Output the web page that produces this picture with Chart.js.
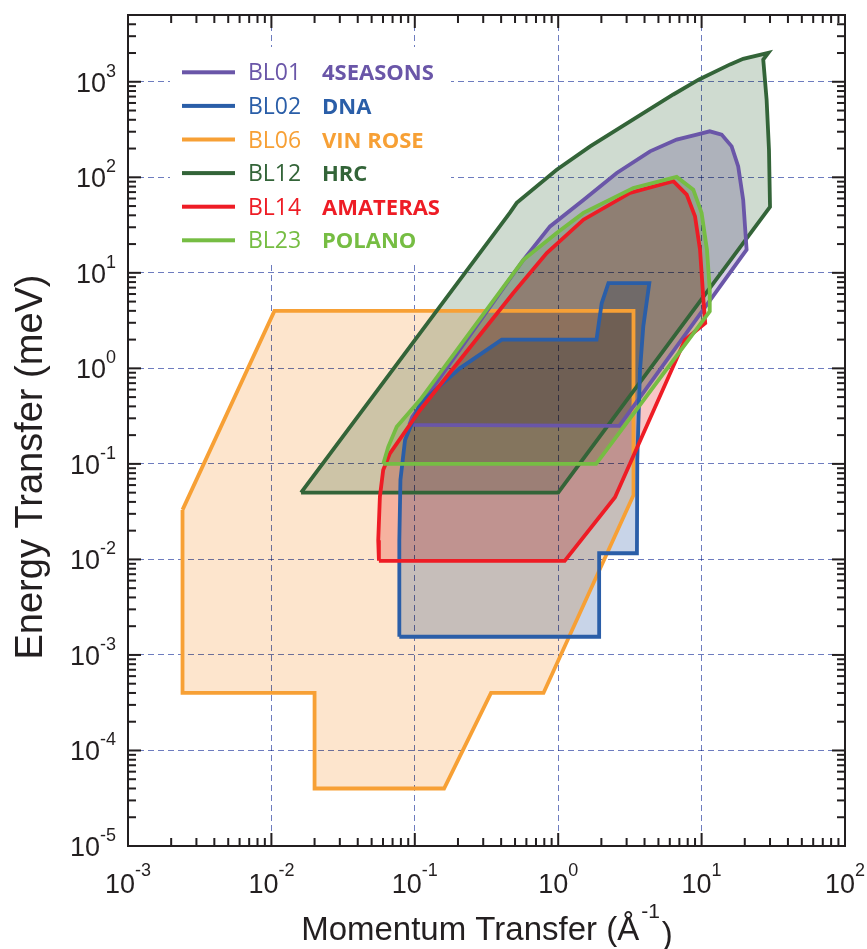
<!DOCTYPE html>
<html>
<head>
<meta charset="utf-8">
<script src="https://cdn.jsdelivr.net/npm/chart.js@4.4.1/dist/chart.umd.min.js"></script>
<style>
  html, body { margin: 0; padding: 0; background: #fff; }
</style>
</head>
<body>
<canvas id="chart" width="867" height="949"></canvas>
<script>
// beamlines, in legend order
const beamlines = ["BL01", "BL02", "BL06", "BL12", "BL14", "BL23"];
const instruments = ["4SEASONS", "DNA", "VIN ROSE", "HRC", "AMATERAS", "POLANO"];
const lineColors = ["#6a56a8", "#2a5ea8", "#f7a035", "#336438", "#ee1c25", "#76bd43"];
// fill tints, combined with "multiply" so overlaps darken
const fillColors = ["#d6cfe5", "#c8d4e8", "#fde5cd", "#cfdbd0", "#f8c6c6", "#d8ebca"];
const drawOrder = [3, 2, 5, 4, 1, 0]; // higher = further back

// coverage polygons : [Q (1/A), E (meV)]
const bl01 = [[0.0915, 0.256], [2.67, 0.25], [20.6, 17.5], [19.5, 58], [18.0, 130], [16.2, 211],
  [13.8, 280], [11.4, 303], [9.25, 280], [6.7, 248], [4.37, 187], [2.56, 111], [1.5, 58],
  [0.877, 30.6], [0.572, 13.7], [0.096, 0.31], [0.0915, 0.256]];
const bl02 = [[0.078, 0.00155], [1.93, 0.00155], [1.93, 0.0116], [3.54, 0.0116], [3.56, 0.11],
  [3.72, 0.96], [3.92, 2.74], [4.32, 7.8], [2.24, 7.8], [2.01, 4.8], [1.85, 2.0], [0.404, 2.0],
  [0.206, 1.0], [0.109, 0.43], [0.0855, 0.178], [0.0794, 0.068], [0.078, 0.0159], [0.078, 0.00155]];
const bl06 = [[0.0024, 0.033], [0.0105, 4.0], [3.35, 4.0], [3.35, 0.047], [0.79, 0.0004],
  [0.34, 0.0004], [0.16, 0.00004], [0.02, 0.00004], [0.02, 0.0004], [0.0024, 0.0004], [0.0024, 0.033]];
const bl12 = [[0.0161, 0.05], [1.0, 0.05], [30, 49], [29.5, 195], [28.4, 650], [26.9, 1710],
  [29.2, 2010], [19.5, 1740], [15.8, 1520], [9.6, 1057], [6.35, 736], [3.34, 403], [1.67, 211],
  [0.976, 120], [0.514, 54], [0.461, 42.7], [0.0161, 0.05]];
const bl14 = [[0.0562, 0.00967], [1.11, 0.00967], [2.49, 0.0447], [7.66, 1.99], [10.6, 2.98],
  [10.3, 5.2], [9.75, 17.5], [9.0, 39], [7.87, 66], [6.35, 91], [3.17, 68.6], [1.5, 36],
  [0.832, 16.1], [0.486, 6.14], [0.109, 0.367], [0.0671, 0.129], [0.0602, 0.0863],
  [0.0571, 0.0453], [0.0556, 0.0159], [0.0562, 0.00967]];
const bl23 = [[0.0602, 0.0998], [1.84, 0.1], [11.4, 3.94], [11.4, 6.65], [10.9, 17.5], [10.0, 42.4],
  [8.75, 74.3], [6.7, 101], [3.34, 77.4], [1.5, 42.4], [0.976, 26.1], [0.572, 13.7],
  [0.109, 0.468], [0.0748, 0.245], [0.0653, 0.151], [0.0602, 0.0998]];
const polygons = [bl01, bl02, bl06, bl12, bl14, bl23];

// axis decades (exponents) that get a "10^n" label
const xTickExp = [-3, -2, -1, 0, 1, 2];
const yTickExp = [-5, -4, -3, -2, -1, 0, 1, 2, 3];
const xMin = 1e-3, xMax = 1e2, yMin = 1e-5, yMax = 5e3;

const inkColor = "#231f20";
const gridColor = "rgba(60,80,170,0.75)";

const isDecade = (v) => Math.abs(Math.log10(v) - Math.round(Math.log10(v))) < 1e-6;

// 1..9 x 10^n tick values between lo and hi
const logTickValues = (lo, hi) => {
  const out = [];
  for (let e = Math.floor(Math.log10(lo)); e <= Math.ceil(Math.log10(hi)); e++) {
    for (let m = 1; m < 10; m++) {
      const v = m * Math.pow(10, e);
      if (v >= lo * 0.999 && v <= hi * 1.001) out.push(v);
    }
  }
  return out;
};

const datasets = polygons.map((pts, i) => ({
  label: beamlines[i] + " " + instruments[i],
  data: pts.map(p => ({ x: p[0], y: p[1] })),
  showLine: true,
  fill: "shape",
  borderColor: lineColors[i],
  backgroundColor: fillColors[i],
  borderWidth: 3.8,
  borderJoinStyle: "miter",
  pointRadius: 0,
  tension: 0,
  order: drawOrder[i]
}));

const gridStyle = (scaleMin, scaleMax) => ({
  drawTicks: false,
  lineWidth: 1,
  color: (c) => {
    const v = c.tick && c.tick.value;
    if (!v || !isDecade(v) || Math.abs(v - scaleMin) / scaleMin < 1e-6 || Math.abs(v - scaleMax) / scaleMax < 1e-6) return "rgba(0,0,0,0)";
    return gridColor;
  }
});

// frame, inward ticks, superscript tick labels, titles, legend box
const decorations = {
  id: "decorations",
  beforeDraw(chart) {
    const { ctx } = chart;
    ctx.globalCompositeOperation = "source-over";
    ctx.fillStyle = "#fff";
    ctx.fillRect(0, 0, chart.width, chart.height);
    // grid + fills are multiplied
    ctx.globalCompositeOperation = "multiply";
  },
  beforeDatasetsDraw(chart) {
    const { ctx } = chart;
    ctx.globalCompositeOperation = "source-over";
    // legend box (white, covers the grid)
    ctx.save();
    ctx.fillStyle = "#fff";
    ctx.fillRect(170, 47, 281, 214);
    ctx.textBaseline = "alphabetic";
    beamlines.forEach((b, i) => {
      const y = 72.3 + i * 33.6;
      ctx.fillStyle = lineColors[i];
      ctx.fillRect(182, y - 2, 53, 4);
      ctx.font = '23px "Open Sans"';
      ctx.textAlign = "left";
      ctx.fillText(b, 248, y + 8);
      ctx.font = 'bold 22px "Open Sans"';
      ctx.fillText(instruments[i], 322, y + 8);
    });
    ctx.restore();
  },
  afterDraw(chart) {
    const { ctx, chartArea: a, scales } = chart;
    const xs = scales.x, ys = scales.y;
    ctx.save();
    ctx.globalCompositeOperation = "source-over";
    ctx.fillStyle = inkColor;
    // inward tick marks on all four sides
    logTickValues(xMin, xMax).forEach(v => {
      const px = xs.getPixelForValue(v);
      const len = isDecade(v) ? 13 : 8;
      ctx.fillRect(px - 1, a.bottom - len, 2, len);
      ctx.fillRect(px - 1, a.top, 2, len);
    });
    logTickValues(yMin, yMax).forEach(v => {
      const py = ys.getPixelForValue(v);
      const len = isDecade(v) ? 13 : 8;
      ctx.fillRect(a.left, py - 1, len, 2);
      ctx.fillRect(a.right - len, py - 1, len, 2);
    });
    // frame
    ctx.strokeStyle = inkColor;
    ctx.lineWidth = 2;
    ctx.strokeRect(a.left, a.top, a.right - a.left, a.bottom - a.top);

    // tick labels 10^n
    ctx.textBaseline = "alphabetic";
    const big = '27px "Liberation Sans"', small = '18px "Liberation Sans"';
    yTickExp.forEach(e => {
      const py = ys.getPixelForValue(Math.pow(10, e));
      ctx.font = small;
      ctx.textAlign = "right";
      const ex = String(e);
      const ew = ctx.measureText(ex).width;
      ctx.fillText(ex, 116, py - 5);
      ctx.font = big;
      ctx.fillText("10", 116 - ew, py + 10);
    });
    xTickExp.forEach(e => {
      const px = xs.getPixelForValue(Math.pow(10, e));
      const ex = String(e);
      ctx.font = big;
      const bw = ctx.measureText("10").width;
      ctx.font = small;
      const ew = ctx.measureText(ex).width;
      const left = px - (bw + ew) / 2;
      ctx.textAlign = "left";
      ctx.font = big;
      ctx.fillText("10", left, 893);
      ctx.font = small;
      ctx.fillText(ex, left + bw, 876);
    });

    // x title with superscript
    const t1 = "Momentum Transfer (\u00c5", sup = "-1", t2 = ")";
    const tf = '33px "Liberation Sans"', sf = '21px "Liberation Sans"';
    ctx.font = tf; const w1 = ctx.measureText(t1).width; const w3 = ctx.measureText(t2).width;
    ctx.font = sf; const w2 = ctx.measureText(sup).width;
    const x0 = 485 - (w1 + w2 + w3) / 2;
    ctx.textAlign = "left";
    ctx.font = tf; ctx.fillText(t1, x0, 940);
    ctx.font = sf; ctx.fillText(sup, x0 + w1 + 2, 918);
    ctx.font = tf; ctx.fillText(t2, x0 + w1 + w2 + 4, 945);

    // y title
    ctx.translate(42, 467);
    ctx.rotate(-Math.PI / 2);
    ctx.textAlign = "center";
    ctx.font = '38px "Liberation Sans"';
    ctx.fillText("Energy Transfer (meV)", 0, 0);
    ctx.restore();
  }
};

new Chart(document.getElementById("chart").getContext("2d"), {
  type: "scatter",
  data: { datasets: datasets },
  options: {
    responsive: false,
    animation: false,
    layout: { padding: { left: 128, right: 22, top: 15, bottom: 103 } },
    plugins: {
      legend: { display: false },
      tooltip: { enabled: false },
      filler: { drawTime: "beforeDatasetsDraw" }
    },
    scales: {
      x: {
        type: "logarithmic",
        min: xMin, max: xMax,
        ticks: { display: false },
        grid: gridStyle(xMin, xMax),
        border: { display: false, dash: [6, 4] }
      },
      y: {
        type: "logarithmic",
        min: yMin, max: yMax,
        ticks: { display: false },
        grid: gridStyle(yMin, yMax),
        border: { display: false, dash: [6, 4] }
      }
    }
  },
  plugins: [decorations]
});
</script>
</body>
</html>
